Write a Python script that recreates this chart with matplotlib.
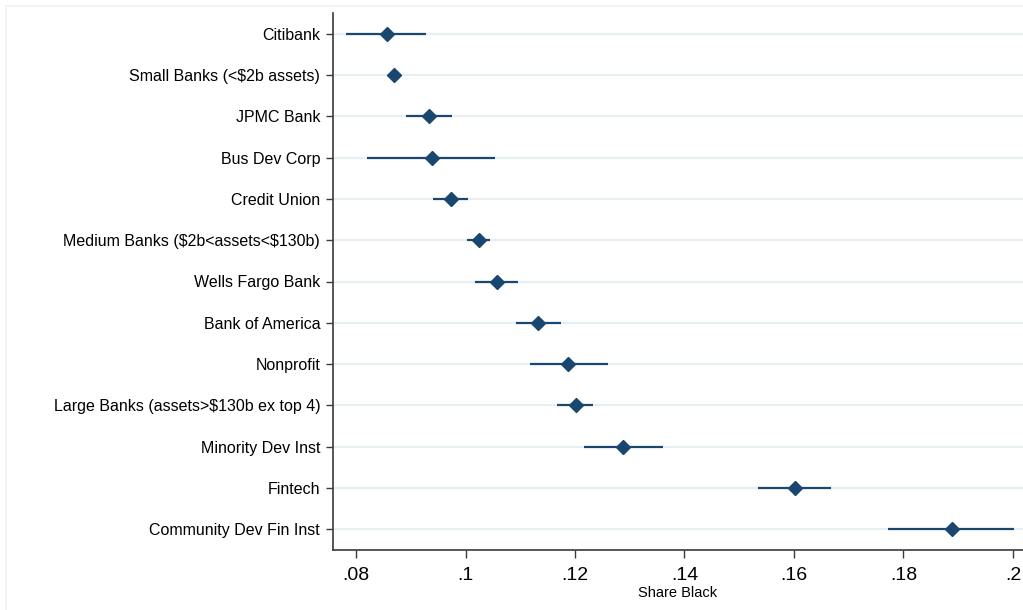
import matplotlib
matplotlib.use("Agg")
import matplotlib.pyplot as plt
from matplotlib.lines import Line2D

categories = [
    "Citibank",
    "Small Banks (<\\$2b assets)",
    "JPMC Bank",
    "Bus Dev Corp",
    "Credit Union",
    "Medium Banks (\\$2b<assets<\\$130b)",
    "Wells Fargo Bank",
    "Bank of America",
    "Nonprofit",
    "Large Banks (assets>\\$130b ex top 4)",
    "Minority Dev Inst",
    "Fintech",
    "Community Dev Fin Inst",
]
share_black = [0.0856, 0.0869, 0.0934, 0.0938, 0.0973, 0.1025, 0.1057,
               0.1133, 0.1188, 0.1201, 0.1288, 0.1601, 0.1888]
ci_low = [0.0782, 0.0866, 0.0891, 0.0821, 0.0941, 0.1003, 0.1017,
          0.1092, 0.1117, 0.1167, 0.1216, 0.1534, 0.1771]
ci_high = [0.0928, 0.0872, 0.0976, 0.1054, 0.1005, 0.1045, 0.1095,
           0.1174, 0.1260, 0.1233, 0.1360, 0.1668, 0.2002]
xticks = [0.08, 0.10, 0.12, 0.14, 0.16, 0.18, 0.20]
xtick_labels = [".08", ".1", ".12", ".14", ".16", ".18", ".2"]

plt.rcParams['font.family'] = ['Liberation Sans', 'DejaVu Sans']

W, H = 1023, 610
fig = plt.figure(figsize=(W / 100, H / 100), dpi=100)
fig.lines.append(Line2D([6 / W, 1], [1 - 6 / H, 1 - 6 / H], transform=fig.transFigure,
                        color='#f0f3f5', linewidth=1.2))
fig.lines.append(Line2D([6 / W, 6 / W], [0, 1 - 6 / H], transform=fig.transFigure,
                        color='#f0f3f5', linewidth=1.2))
ax = fig.add_axes([332.7 / W, 1 - 550 / H, 1 - 332.7 / W, (550 - 13) / H])

navy = '#1a476f'
y = list(range(len(categories)))
for yi in y:
    ax.axhline(yi, color='#e8eff2', linewidth=1.6, zorder=0)

xerr = [[s - l for s, l in zip(share_black, ci_low)],
        [h - s for s, h in zip(share_black, ci_high)]]
ax.errorbar(share_black, y, xerr=xerr, fmt='D', color=navy, ecolor=navy,
            elinewidth=1.6, markersize=7.5, capsize=0, zorder=3)

ax.set_ylim(len(categories) - 0.5, -0.5)
ax.set_xlim(0.08 - 23.3 / 5475, 0.08 + (1023 - 356) / 5475)
ax.set_yticks(y)
ax.set_yticklabels(categories, fontsize=11.5)
ax.set_xticks(xticks)
ax.set_xticklabels(xtick_labels, fontsize=14)
ax.set_xlabel("Share Black", fontsize=10.5, labelpad=2)

for side in ['top', 'right']:
    ax.spines[side].set_visible(False)
for side in ['left', 'bottom']:
    ax.spines[side].set_color('#3a3a3a')
    ax.spines[side].set_linewidth(1.2)
ax.tick_params(axis='y', length=5, width=1, color='#3a3a3a', pad=4)
ax.tick_params(axis='x', length=6, width=1, color='#3a3a3a', pad=6)

fig.savefig("out.png", dpi=100)
